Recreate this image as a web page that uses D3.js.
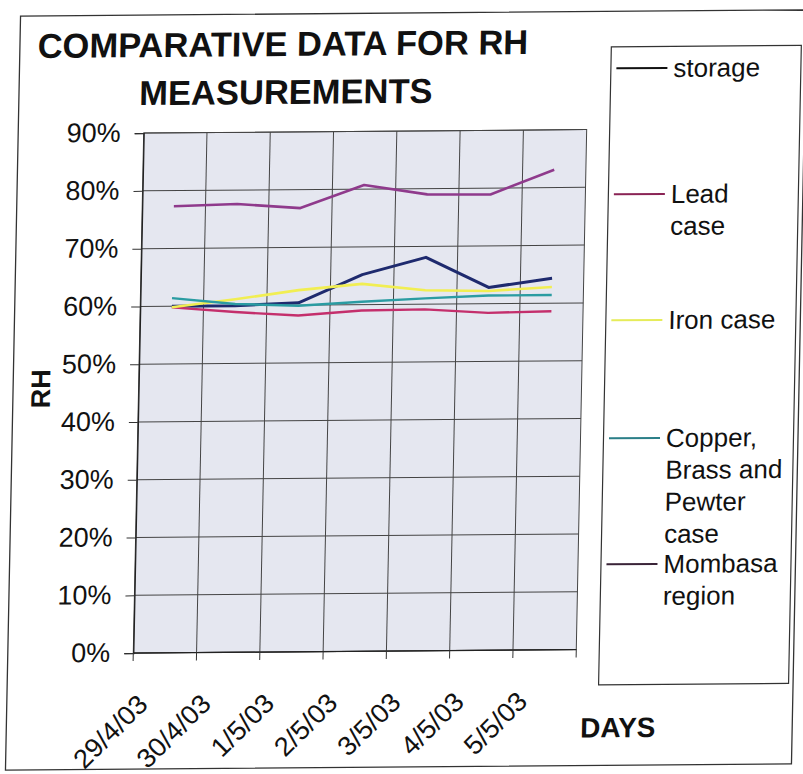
<!DOCTYPE html>
<html><head><meta charset="utf-8">
<script src="https://cdn.jsdelivr.net/npm/d3@7/dist/d3.min.js"></script>
<style>body{margin:0;background:#fff}svg{display:block}</style>
</head><body>
<svg id="c" width="803" height="774"></svg>
<script>
// ---- data ----
const categories = ["29/4/03","30/4/03","1/5/03","2/5/03","3/5/03","4/5/03","5/5/03"];
const storage    = [0.600, 0.600, 0.604, 0.652, 0.681, 0.628, 0.643];
const leadCase   = [0.598, 0.589, 0.582, 0.590, 0.591, 0.584, 0.586];
const ironCase   = [0.598, 0.611, 0.626, 0.636, 0.624, 0.622, 0.628];
const copperCase = [0.614, 0.603, 0.599, 0.605, 0.610, 0.614, 0.614];
const mombasa    = [0.773, 0.776, 0.768, 0.807, 0.790, 0.789, 0.831];
const seriesNames = ["storage", "Lead case", "Iron case", "Copper, Brass and Pewter case", "Mombasa region"];
const legendLines = [["storage"], ["Lead","case"], ["Iron case"], ["Copper,","Brass and","Pewter","case"], ["Mombasa","region"]];
const yTicks = [0, 0.1, 0.2, 0.3, 0.4, 0.5, 0.6, 0.7, 0.8, 0.9];
const titleLines = ["COMPARATIVE DATA FOR RH", "MEASUREMENTS"];

// ---- styles ----
const lineColors   = ["#1e2a6e", "#c42f6c", "#f1ee52", "#2b9ca2", "#8f3a8c"];
const legendColors = ["#111111", "#8a2455", "#e6ec5a", "#2b7f88", "#3a2438"];
const lineWidths   = [3, 2.4, 2.6, 2.4, 2.6];
const font = "'Liberation Sans', Arial, sans-serif";

const svg = d3.select("#c");
const g = svg.append("g")
  .attr("transform", "translate(400,390) matrix(1,-0.008,-0.02,1,0,0) translate(-400,-390)");

// outer frame
g.append("rect").attr("x", 13).attr("y", 13).attr("width", 786).attr("height", 754)
  .attr("fill", "none").attr("stroke", "#333").attr("stroke-width", 1.3);

const x0 = 138.5, x1 = 581.5, yBottom = 651, yTop = 131;
const x = d3.scaleBand().domain(categories).range([x0, x1]).padding(0);
const y = d3.scaleLinear().domain([0, 0.9]).range([yBottom, yTop]);

// plot area
g.append("rect").attr("x", x0).attr("y", yTop).attr("width", x1 - x0).attr("height", yBottom - yTop)
  .attr("fill", "#e5e7f0").attr("stroke", "#444").attr("stroke-width", 1);

// horizontal gridlines
g.append("g").selectAll("line").data(yTicks).join("line")
  .attr("x1", x0).attr("x2", x1).attr("y1", d => y(d)).attr("y2", d => y(d))
  .attr("stroke", "#444").attr("stroke-width", 1);

// vertical gridlines at category boundaries
const bounds = categories.slice(1).map(c => x(c));
g.append("g").selectAll("line").data(bounds).join("line")
  .attr("x1", d => d).attr("x2", d => d).attr("y1", yTop).attr("y2", yBottom)
  .attr("stroke", "#444").attr("stroke-width", 1);

// y axis
const yAxis = g.append("g").attr("transform", `translate(${x0},0)`)
  .call(d3.axisLeft(y).tickValues(yTicks).tickFormat(d3.format(".0%")).tickSize(9).tickPadding(14));
yAxis.select(".domain").attr("stroke", "#222").attr("stroke-width", 1.3);
yAxis.selectAll(".tick line").attr("stroke", "#333");
yAxis.selectAll("text").attr("font-family", font).attr("font-size", 27).attr("fill", "#111").attr("dy", "0.3em");

// x axis line + ticks at boundaries
g.append("line").attr("x1", x0).attr("x2", x1).attr("y1", yBottom).attr("y2", yBottom)
  .attr("stroke", "#222").attr("stroke-width", 1.3);
const allBounds = categories.map(c => x(c)).concat([x1]);
g.append("g").selectAll("line").data(allBounds).join("line")
  .attr("x1", d => d).attr("x2", d => d).attr("y1", yBottom).attr("y2", yBottom + 8)
  .attr("stroke", "#333");

// x labels
g.append("g").selectAll("text").data(categories).join("text")
  .attr("transform", d => `translate(${x(d) + 17},${yBottom + 53}) rotate(-45)`)
  .attr("text-anchor", "end")
  .attr("font-family", font).attr("font-size", 27).attr("fill", "#111")
  .text(d => d);

// series lines
const series = [storage, leadCase, ironCase, copperCase, mombasa];
const line = d3.line().x((d, i) => x(categories[i]) + x.bandwidth() / 2).y(d => y(d));
g.append("g").selectAll("path").data(series).join("path")
  .attr("d", d => line(d))
  .attr("fill", "none")
  .attr("stroke", (d, i) => lineColors[i])
  .attr("stroke-width", (d, i) => lineWidths[i])
  .attr("stroke-linejoin", "round");

// title
const t = g.append("text").attr("font-family", font).attr("font-weight", "bold")
  .attr("font-size", 34.5).attr("fill", "#111").attr("text-anchor", "middle");
t.append("tspan").attr("x", 276).attr("y", 55).text(titleLines[0]);
t.append("tspan").attr("x", 280).attr("y", 103).text(titleLines[1]);

// axis titles
g.append("text").attr("transform", "translate(50,386) rotate(-90)")
  .attr("text-anchor", "middle").attr("font-family", font).attr("font-weight", "bold")
  .attr("font-size", 27).attr("fill", "#111").text("RH");
g.append("text").attr("x", 587).attr("y", 739)
  .attr("font-family", font).attr("font-weight", "bold")
  .attr("font-size", 28).attr("fill", "#111").text("DAYS");

// legend
g.append("rect").attr("x", 604.5).attr("y", 48.5).attr("width", 190).attr("height", 638)
  .attr("fill", "#fff").attr("stroke", "#333").attr("stroke-width", 1.2);
const legendY = [70, 196, 322, 440, 566];
const lg = g.append("g").selectAll("g").data(seriesNames).join("g")
  .attr("transform", (d, i) => `translate(0,${legendY[i]})`);
lg.append("line").attr("x1", 610).attr("x2", 661).attr("y1", 0).attr("y2", 0)
  .attr("stroke", (d, i) => legendColors[i]).attr("stroke-width", 2);
lg.append("text").attr("font-family", font).attr("font-size", 26).attr("fill", "#111")
  .each(function(d, i) {
    const sel = d3.select(this);
    legendLines[i].forEach((s, k) => {
      sel.append("tspan").attr("x", 667).attr("y", 9 + k * 32).text(s);
    });
  });
</script>
</body></html>
